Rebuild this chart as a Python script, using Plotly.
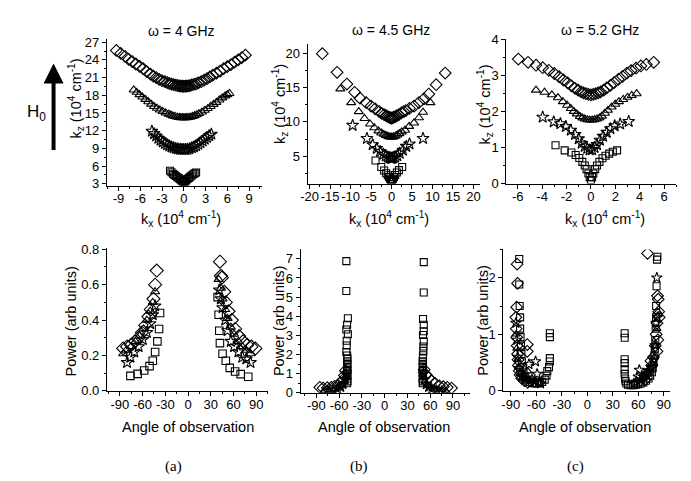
import plotly.graph_objects as go

# ---------------- data: top row, dispersion k_z vs k_x ----------------
# omega = 4 GHz
t4_dia_kx = [-9.3,-8.7,-8.1,-7.6,-7.1,-6.6,-6.1,-5.6,-5.1,-4.6,-4.2,-3.8,-3.4,-3.0,-2.6,-2.3,-2.0,-1.7,-1.4,-1.1,-0.85,-0.6,-0.4,-0.2,0.0,0.2,0.4,0.6,0.85,1.1,1.4,1.7,2.0,2.4,2.8,3.2,3.6,4.0,4.5,5.0,5.5,6.0,6.5,7.0,7.5,8.0,8.5]
t4_dia_kz = [25.6,25.1,24.6,24.1,23.7,23.3,22.9,22.5,22.0,21.6,21.25,21.0,20.7,20.5,20.3,20.15,20.0,19.9,19.8,19.7,19.65,19.6,19.55,19.55,19.5,19.55,19.55,19.6,19.65,19.75,19.85,19.95,20.1,20.3,20.55,20.8,21.1,21.4,21.75,22.1,22.5,22.85,23.2,23.6,24.0,24.4,24.8]
t4_tri_kx = [-6.9,-6.5,-6.1,-5.7,-5.3,-4.9,-4.5,-4.1,-3.7,-3.3,-2.9,-2.5,-2.1,-1.8,-1.5,-1.2,-0.9,-0.6,-0.4,-0.2,0.0,0.2,0.4,0.6,0.9,1.2,1.5,1.8,2.1,2.5,2.9,3.3,3.7,4.1,4.5,4.9,5.3,5.7,6.0,6.3]
t4_tri_kz = [18.9,18.5,18.1,17.7,17.3,16.9,16.5,16.1,15.8,15.5,15.25,15.0,14.8,14.65,14.5,14.4,14.3,14.25,14.2,14.2,14.2,14.2,14.2,14.25,14.3,14.4,14.55,14.7,14.9,15.15,15.45,15.75,16.1,16.45,16.8,17.2,17.55,17.9,18.1,18.3]
t4_sta_kx = [-4.4,-4.1,-3.8,-3.5,-3.2,-2.9,-2.6,-2.3,-2.0,-1.7,-1.4,-1.1,-0.8,-0.5,-0.25,0.0,0.25,0.5,0.8,1.1,1.4,1.7,2.0,2.3,2.6,2.9,3.2,3.5,3.8]
t4_sta_kz = [11.9,11.5,11.1,10.7,10.4,10.1,9.85,9.6,9.4,9.25,9.1,9.0,8.9,8.85,8.8,8.8,8.8,8.85,8.95,9.1,9.25,9.45,9.7,9.95,10.25,10.55,10.85,11.15,11.4]
t4_squ_kx = [-1.9,-1.7,-1.5,-1.3,-1.1,-0.9,-0.7,-0.5,-0.35,-0.2,-0.1,0.0,0.1,0.2,0.35,0.5,0.7,0.9,1.1,1.3,1.5,1.7]
t4_squ_kz = [5.2,4.95,4.7,4.5,4.3,4.1,3.95,3.75,3.6,3.45,3.35,3.3,3.35,3.45,3.6,3.8,4.0,4.2,4.4,4.6,4.75,4.9]

# omega = 4.5 GHz
t45_dia_kx = [-16.9,-13.3,-10.9,-9.0,-7.7,-6.2,-5.0,-4.0,-3.0,-2.4,-1.8,-1.3,-0.9,-0.5,-0.2,0.0,0.2,0.5,0.9,1.3,1.8,2.4,3.0,3.5,4.4,5.5,6.7,7.9,9.1,10.9,13.1]
t45_dia_kz = [19.9,17.2,15.5,14.3,13.45,12.8,12.3,11.9,11.5,11.25,11.05,10.9,10.75,10.65,10.6,10.55,10.6,10.65,10.75,10.9,11.05,11.3,11.5,11.65,11.95,12.3,12.8,13.35,14.05,15.4,17.1]
t45_tri_kx = [-12.5,-9.85,-8.0,-6.6,-5.25,-4.2,-3.2,-2.5,-1.9,-1.4,-1.0,-0.6,-0.3,0.0,0.3,0.6,1.0,1.4,1.9,2.5,3.3,4.3,5.5,6.7,7.7,9.5]
t45_tri_kz = [14.8,12.8,11.5,10.5,9.7,9.15,8.7,8.4,8.2,8.05,7.95,7.85,7.8,7.8,7.8,7.85,7.95,8.1,8.3,8.55,8.8,9.35,9.85,10.6,11.4,12.8]
t45_sta_kx = [-9.5,-6.0,-4.6,-3.6,-2.8,-2.0,-1.4,-0.9,-0.5,-0.2,0.0,0.2,0.5,0.9,1.4,2.0,2.8,3.6,4.4,7.7]
t45_sta_kz = [9.5,7.6,6.7,6.15,5.7,5.3,5.05,4.9,4.8,4.75,4.7,4.75,4.8,4.9,5.1,5.45,5.9,6.45,6.8,7.6]
t45_squ_kx = [-3.9,-2.5,-1.8,-1.3,-0.9,-0.6,-0.35,-0.15,0.0,0.15,0.35,0.6,0.9,1.3,1.8,2.6]
t45_squ_kz = [4.4,3.45,2.95,2.55,2.25,2.0,1.75,1.55,1.4,1.55,1.75,2.0,2.3,2.65,3.0,3.45]

# omega = 5.2 GHz
t52_dia_kx = [-5.95,-5.15,-4.5,-3.95,-3.45,-3.0,-2.6,-2.25,-1.9,-1.6,-1.3,-1.05,-0.8,-0.6,-0.4,-0.2,0.0,0.2,0.4,0.6,0.8,1.05,1.3,1.6,1.9,2.25,2.6,2.95,3.3,3.7,4.1,4.55,5.15]
t52_dia_kz = [3.45,3.36,3.28,3.21,3.14,3.05,2.96,2.87,2.79,2.71,2.64,2.59,2.54,2.51,2.49,2.47,2.46,2.47,2.49,2.51,2.54,2.59,2.65,2.72,2.8,2.89,2.97,3.06,3.13,3.2,3.26,3.3,3.36]
t52_tri_kx = [-4.5,-3.8,-3.2,-2.7,-2.3,-1.95,-1.65,-1.4,-1.15,-0.9,-0.7,-0.5,-0.3,-0.1,0.1,0.3,0.5,0.7,0.9,1.15,1.4,1.7,2.0,2.3,2.65,3.0,3.35,3.75]
t52_tri_kz = [2.59,2.53,2.46,2.38,2.27,2.17,2.08,2.0,1.93,1.86,1.82,1.79,1.77,1.76,1.76,1.77,1.79,1.82,1.87,1.95,2.03,2.12,2.2,2.27,2.33,2.39,2.44,2.49]
t52_sta_kx = [-3.95,-3.05,-2.5,-2.05,-1.65,-1.3,-1.0,-0.75,-0.5,-0.3,-0.1,0.1,0.3,0.5,0.75,1.0,1.3,1.6,1.95,2.4,3.1]
t52_sta_kz = [1.84,1.71,1.66,1.58,1.48,1.36,1.24,1.12,1.03,0.97,0.93,0.94,1.0,1.08,1.2,1.31,1.42,1.52,1.6,1.65,1.72]
t52_squ_kx = [-2.9,-2.15,-1.6,-1.25,-0.95,-0.7,-0.5,-0.35,-0.2,-0.1,0.0,0.1,0.2,0.35,0.5,0.7,0.95,1.2,1.5,1.8,2.15]
t52_squ_kz = [1.06,0.92,0.86,0.79,0.71,0.6,0.5,0.4,0.28,0.18,0.1,0.18,0.28,0.4,0.5,0.6,0.7,0.77,0.83,0.88,0.92]

# ---------------- data: bottom row, power vs angle ----------------
p4_dia_ang = [-85.6,-80.4,-75.2,-69.5,-65.2,-60.8,-56.5,-52.2,-49.1,-45.6,-43.4,-41.3,42.1,43.4,44.7,47.8,49.9,53.5,57.8,62.2,67.4,72.6,78.2,83.8,89.0]
p4_dia_pow = [0.24,0.25,0.26,0.28,0.30,0.33,0.37,0.42,0.46,0.52,0.60,0.68,0.73,0.65,0.64,0.56,0.50,0.45,0.40,0.35,0.31,0.28,0.26,0.25,0.24]
p4_tri_ang = [-85.6,-81.2,-75.2,-69.5,-63.9,-58.7,-54.3,-50.0,-46.5,-43.4,40.4,43.4,45.6,49.1,52.2,56.5,60.8,66.5,71.7,76.9,82.5]
p4_tri_pow = [0.21,0.23,0.25,0.28,0.31,0.35,0.40,0.45,0.50,0.56,0.63,0.58,0.52,0.46,0.41,0.36,0.32,0.28,0.25,0.23,0.21]
p4_sta_ang = [-80.4,-76.0,-70.8,-65.2,-59.6,-54.3,-50.0,-46.5,-43.4,41.3,43.4,45.6,49.1,52.2,56.5,60.8,66.5,71.7,76.9,82.5]
p4_sta_pow = [0.16,0.19,0.22,0.25,0.29,0.33,0.38,0.43,0.48,0.57,0.52,0.47,0.40,0.34,0.28,0.25,0.22,0.19,0.18,0.16]
p4_squ_ang = [-76.0,-66.5,-57.8,-50.8,-46.5,-43.4,-40.4,-38.2,-36.9,39.1,40.4,41.3,42.1,45.6,49.9,55.1,62.2,69.5,79.5]
p4_squ_pow = [0.085,0.096,0.115,0.14,0.17,0.22,0.28,0.35,0.44,0.53,0.43,0.34,0.27,0.21,0.17,0.13,0.11,0.095,0.08]

p45_dia_ang = [-85.5,-81.1,-75.5,-70.3,-66.0,-61.6,-58.2,-55.1,-53.0,-51.7,52.1,54.3,57.7,62.1,66.4,72.0,77.2,82.4,88.1]
p45_dia_pow = [0.29,0.25,0.27,0.29,0.34,0.40,0.54,0.67,0.91,1.16,1.21,0.96,0.79,0.62,0.49,0.37,0.32,0.29,0.25]
p45_tri_ang = [-80,-72,-65,-60,-56,-53,-51.5,51.5,53,56,60,65,72,80]
p45_tri_pow = [0.12,0.15,0.2,0.28,0.4,0.6,0.85,0.85,0.6,0.4,0.28,0.2,0.15,0.12]
p45_sta_ang = [-75,-68,-62,-58,-55,-52.5,-51,51,52.5,55,58,62,68,75]
p45_sta_pow = [0.1,0.14,0.2,0.3,0.45,0.7,1.0,1.0,0.7,0.45,0.3,0.2,0.14,0.1]
p45_squ_ang = [-50.5,-50.5,-48.5,-49.5,-50.5,-48.5,-50,-50,-50.5,-49.5,-49,-49.5,-49,-49.5,-49,-49.5,-49,-49.5,-49,-49.5,
               51.5,51.5,50.5,51.5,51.5,50.5,51.5,51,51,50.5,50.5,50,50.5,50,50.5,50,50.5,50,50.5,50]
p45_squ_pow = [6.88,5.32,3.9,3.56,3.31,3.06,2.72,2.47,2.13,1.95,1.8,1.65,1.5,1.35,1.2,1.05,0.9,0.75,0.6,0.5,
               6.83,5.24,3.86,3.56,3.22,3.02,2.69,2.42,2.19,1.96,1.8,1.65,1.5,1.35,1.2,1.05,0.9,0.75,0.6,0.5]

p52_dia_ang = [-82.5,-82,-83,-84,-83.5,-83,-82.5,-82,-81.5,-81,-80,-79,-77,-74,-70.6,-70.6,-70,68,70,70.9,74.8,76,78,80,81,82,82.6,83.4,84,84.5,83,82]
p52_dia_pow = [2.24,1.9,1.48,1.3,1.1,0.95,0.8,0.65,0.55,0.45,0.35,0.28,0.22,0.18,0.82,0.7,0.15,0.2,0.3,2.43,0.53,0.45,0.6,0.8,1.0,1.2,1.68,1.62,1.4,1.3,0.9,0.7]
p52_tri_ang = [-84,-83,-82,-81,-79,-76,-73,-70,-67,62,65,68,71,74,77,79,80.5,82,83]
p52_tri_pow = [1.0,0.75,0.55,0.42,0.3,0.24,0.2,0.35,0.18,0.18,0.22,0.28,0.3,0.38,0.45,0.6,0.8,1.1,1.4]
p52_sta_ang = [-84,-83,-82,-80,-76,-72,-68.6,-65,-62,-60.8,-59,-57,-55,55,58,60,61.3,63,66,69,72,75,78,80,81,81.8,82.5]
p52_sta_pow = [1.2,0.9,0.6,0.4,0.28,0.22,0.47,0.2,0.18,0.52,0.3,0.15,0.13,0.13,0.16,0.25,0.37,0.2,0.25,0.3,0.35,0.42,0.55,0.8,1.2,2.0,1.3]
p52_squ_ang = [-80,-80,-79.5,-79,-79,-78.5,-78,-77.5,-77,-76,-75,-73,-71,-68,-65,-62,-59,-56,-53,-50,-48,-47,-45,-44,-44,-44,-44,
               44,44,44,44,44,44,44.5,45,46,48,51,54,57,60,63,66,69,72,74,76,77,78,79,79.5,80,80.5,81,81,81.5,82,82.5]
p52_squ_pow = [2.33,1.88,1.5,1.3,1.1,0.95,0.8,0.65,0.52,0.42,0.33,0.25,0.2,0.16,0.14,0.13,0.13,0.14,0.16,0.2,0.27,0.35,0.42,0.52,0.58,0.95,1.02,
               1.02,0.94,0.56,0.49,0.38,0.3,0.22,0.17,0.13,0.11,0.1,0.1,0.11,0.12,0.13,0.15,0.18,0.22,0.27,0.33,0.4,0.5,0.62,0.75,0.9,1.1,1.3,1.5,1.85,2.32,2.37]

# tick labels
t4_xt = [-9, -6, -3, 0, 3, 6, 9]
t4_yt = [3, 6, 9, 12, 15, 18, 21, 24, 27]
t45_xt = [-20, -15, -10, -5, 0, 5, 10, 15, 20]
t45_yt = [5, 10, 15, 20]
t52_xt = [-6, -4, -2, 0, 2, 4, 6]
t52_yt = [0, 1, 2, 3, 4]
ang_t = [-90, -60, -30, 0, 30, 60, 90]
p4_yt = [0.0, 0.2, 0.4, 0.6, 0.8]
p45_yt = [0, 1, 2, 3, 4, 5, 6, 7]
p52_yt = [0, 1, 2]

W, H = 691, 481
SANS = "Liberation Sans, Arial, sans-serif"
SERIF = "Liberation Serif, Times New Roman, serif"
TICK = 13
TITLE = 14.5

def px(x):
    return x / W

def py(y):
    return 1 - y / H

fig = go.Figure()

symbols = {"dia": "diamond-open", "tri": "triangle-up-open", "sta": "star-open", "squ": "square-open"}

def add(xs, ys, sym, ax, size):
    fig.add_trace(go.Scatter(
        x=xs, y=ys, mode="markers", showlegend=False,
        marker=dict(symbol=symbols[sym], size=size, color="black", line=dict(width=1.1, color="black")),
        xaxis="x" + ax, yaxis="y" + ax))

add(t4_dia_kx, t4_dia_kz, "dia", "", 9)
add(t4_tri_kx, t4_tri_kz, "tri", "", 8)
add(t4_sta_kx, t4_sta_kz, "sta", "", 9)
add(t4_squ_kx, t4_squ_kz, "squ", "", 7)
add(t45_dia_kx, t45_dia_kz, "dia", "2", 9)
add(t45_tri_kx, t45_tri_kz, "tri", "2", 8)
add(t45_sta_kx, t45_sta_kz, "sta", "2", 9)
add(t45_squ_kx, t45_squ_kz, "squ", "2", 7)
add(t52_dia_kx, t52_dia_kz, "dia", "3", 9)
add(t52_tri_kx, t52_tri_kz, "tri", "3", 8)
add(t52_sta_kx, t52_sta_kz, "sta", "3", 9)
add(t52_squ_kx, t52_squ_kz, "squ", "3", 7)
add(p4_dia_ang, p4_dia_pow, "dia", "4", 10)
add(p4_tri_ang, p4_tri_pow, "tri", "4", 8)
add(p4_sta_ang, p4_sta_pow, "sta", "4", 9)
add(p4_squ_ang, p4_squ_pow, "squ", "4", 7.5)
add(p45_dia_ang, p45_dia_pow, "dia", "5", 9)
add(p45_tri_ang, p45_tri_pow, "tri", "5", 7)
add(p45_sta_ang, p45_sta_pow, "sta", "5", 8)
add(p45_squ_ang, p45_squ_pow, "squ", "5", 7)
add(p52_dia_ang, p52_dia_pow, "dia", "6", 9)
add(p52_tri_ang, p52_tri_pow, "tri", "6", 7)
add(p52_sta_ang, p52_sta_pow, "sta", "6", 8)
add(p52_squ_ang, p52_squ_pow, "squ", "6", 7)

def axis(dom, rng, tv, fmtstr, minor, standoff):
    return dict(domain=dom, range=rng, tickvals=tv,
                ticktext=[fmtstr.format(v) for v in tv],
                showline=True, linecolor="black", linewidth=1, mirror=False,
                ticks="outside", ticklen=4, tickcolor="black", tickwidth=1,
                minor=dict(ticks="outside", ticklen=2, tickcolor="black", dtick=minor),
                showgrid=False, zeroline=False, tickangle=0,
                ticklabelstandoff=standoff,
                tickfont=dict(family=SANS, size=TICK, color="black"))

# pixel boxes (left, right, top, bottom)
boxes = {
    "": (93, 250, 25, 176),
    "2": (296, 470, 30, 174),
    "3": (497, 669, 25, 174),
    "4": (93, 256, 240, 388),
    "5": (289, 460, 242, 390),
    "6": (494, 663, 242, 388),
}
xr = {"": [-10.6, 10.8], "2": [-20.5, 21.5], "3": [-6.94, 7.0],
      "4": [-107, 105.6], "5": [-110.7, 112], "6": [-98.8, 97.7]}
yr = {"": [2.7, 27.5], "2": [1.05, 21.3], "3": [0, 4.0],
      "4": [0, 0.81], "5": [0, 7.49], "6": [0, 2.5]}
xt = {"": (t4_xt, "{:d}", 1.5), "2": (t45_xt, "{:d}", 2.5), "3": (t52_xt, "{:d}", 1),
      "4": (ang_t, "{:d}", 15), "5": (ang_t, "{:d}", 15), "6": (ang_t, "{:d}", 15)}
yt = {"": (t4_yt, "{:d}", 1.5), "2": (t45_yt, "{:d}", 2.5), "3": (t52_yt, "{:d}", 0.5),
      "4": (p4_yt, "{:.1f}", 0.1), "5": (p45_yt, "{:d}", 0.5), "6": (p52_yt, "{:d}", 0.5)}

lay = {}
for k, (l, r, t, b) in boxes.items():
    xa = axis([px(l), px(r)], xr[k], xt[k][0], xt[k][1], xt[k][2], -3)
    xa["anchor"] = "y" + k
    ya = axis([py(b), py(t)], yr[k], yt[k][0], yt[k][1], yt[k][2], 0)
    ya["anchor"] = "x" + k
    lay["xaxis" + k] = xa
    lay["yaxis" + k] = ya

fig.update_layout(**lay)

ann = []
def text(x, y, s, size=TITLE, angle=0, family=SANS):
    ann.append(dict(x=px(x), y=py(y), xref="paper", yref="paper", text=s, showarrow=False,
                    textangle=angle, font=dict(family=family, size=size, color="black"),
                    xanchor="center", yanchor="middle"))

text(168, 16, "ω = 4 GHz", size=14)
text(380, 15, "ω = 4.5 GHz", size=14)
text(592, 15, "ω = 5.2 GHz", size=14)
kz_t = "k<sub>z</sub> (10<sup>4</sup> cm<sup>-1</sup>)"
kx_t = "k<sub>x</sub> (10<sup>4</sup> cm<sup>-1</sup>)"
text(62, 86, kz_t, angle=-90)
text(268, 92, kz_t, angle=-90)
text(476, 92, kz_t, angle=-90)
text(168, 211, kx_t)
text(378, 211, kx_t)
text(597, 211, kx_t)
pw_t = "Power (arb units)"
text(57, 316, pw_t, angle=-90)
text(267, 316, pw_t, angle=-90)
text(474, 316, pw_t, angle=-90)
text(175, 425, "Angle of observation")
text(373, 425, "Angle of observation")
text(577, 425, "Angle of observation")
text(160, 466, "(a)", size=15, family=SERIF)
text(348, 466, "(b)", size=15, family=SERIF)
text(567, 466, "(c)", size=15, family=SERIF)
text(22, 101, "H<sub>0</sub>", size=17)

ann.append(dict(x=px(39), y=py(50), xref="paper", yref="paper", ax=0, ay=88,
                showarrow=True, arrowhead=2, arrowsize=1, arrowwidth=4, arrowcolor="black", text=""))

fig.update_layout(width=W, height=H, margin=dict(l=0, r=0, t=0, b=0),
                  paper_bgcolor="white", plot_bgcolor="white", annotations=ann,
                  showlegend=False)

fig.write_html("out.html")
